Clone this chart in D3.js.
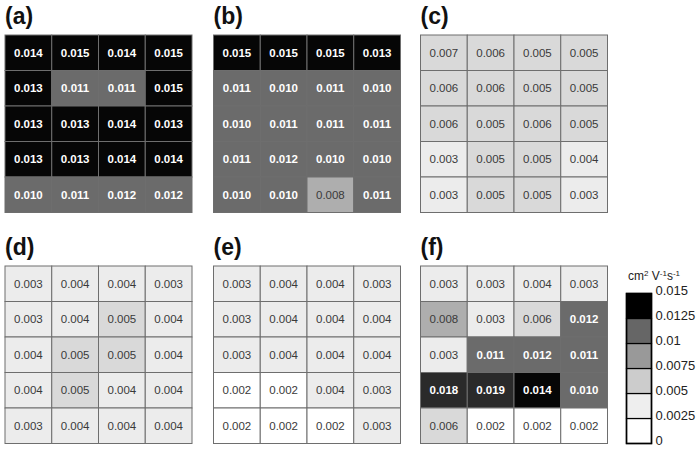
<!DOCTYPE html>
<html>
<head>
<meta charset="utf-8">
<script src="https://cdn.jsdelivr.net/npm/d3@7"></script>
<style>
html,body{margin:0;padding:0;background:#fff;}
svg{display:block;font-family:"Liberation Sans",Arial,sans-serif;}
</style>
</head>
<body>
<svg id="chart" width="697" height="451"></svg>
<script>
const panelLabels = ["(a)", "(b)", "(c)", "(d)", "(e)", "(f)"];
const valuesA = [
  [0.014, 0.015, 0.014, 0.015],
  [0.013, 0.011, 0.011, 0.015],
  [0.013, 0.013, 0.014, 0.013],
  [0.013, 0.013, 0.014, 0.014],
  [0.010, 0.011, 0.012, 0.012]
];
const valuesB = [
  [0.015, 0.015, 0.015, 0.013],
  [0.011, 0.010, 0.011, 0.010],
  [0.010, 0.011, 0.011, 0.011],
  [0.011, 0.012, 0.010, 0.010],
  [0.010, 0.010, 0.008, 0.011]
];
const valuesC = [
  [0.007, 0.006, 0.005, 0.005],
  [0.006, 0.006, 0.005, 0.005],
  [0.006, 0.005, 0.006, 0.005],
  [0.003, 0.005, 0.005, 0.004],
  [0.003, 0.005, 0.005, 0.003]
];
const valuesD = [
  [0.003, 0.004, 0.004, 0.003],
  [0.003, 0.004, 0.005, 0.004],
  [0.004, 0.005, 0.005, 0.004],
  [0.004, 0.005, 0.004, 0.004],
  [0.003, 0.004, 0.004, 0.004]
];
const valuesE = [
  [0.003, 0.004, 0.004, 0.003],
  [0.003, 0.004, 0.004, 0.004],
  [0.003, 0.004, 0.004, 0.004],
  [0.002, 0.002, 0.004, 0.003],
  [0.002, 0.002, 0.002, 0.003]
];
const valuesF = [
  [0.003, 0.003, 0.004, 0.003],
  [0.008, 0.003, 0.006, 0.012],
  [0.003, 0.011, 0.012, 0.011],
  [0.018, 0.019, 0.014, 0.010],
  [0.006, 0.002, 0.002, 0.002]
];
const legendTicks = [0, 0.0025, 0.005, 0.0075, 0.01, 0.0125, 0.015];
const legendTickLabels = ["0", "0.0025", "0.005", "0.0075", "0.01", "0.0125", "0.015"];
const unitLabel = "cm² V⁻¹s⁻¹";

const panels = [valuesA, valuesB, valuesC, valuesD, valuesE, valuesF];

const svg = d3.select("#chart");

// cell color scale (threshold bins of 0.0025)
const cellColor = d3.scaleThreshold()
  .domain([0.0025, 0.005, 0.0075, 0.01, 0.0125, 0.016])
  .range(["#ffffff", "#ececec", "#d9d9d9", "#aeaeae", "#6b6b6b", "#060606", "#2a2a2a"]);
const legendColor = d3.scaleThreshold()
  .domain([0.0025, 0.005, 0.0075, 0.01, 0.0125])
  .range(["#ffffff", "#eeeeee", "#cccccc", "#999999", "#666666", "#000000"]);

const panelX = [5, 213.5, 420.5];
const panelY = [35, 266];
const gridW = 187, gridH = 177.5;
const titleY = [24, 254.5];

panels.forEach((vals, i) => {
  const px = panelX[i % 3], py = panelY[Math.floor(i / 3)];
  const g = svg.append("g").attr("transform", `translate(${px},${py})`);
  const x = d3.scaleBand().domain(d3.range(4)).range([0, gridW]);
  const y = d3.scaleBand().domain(d3.range(5)).range([0, gridH]);
  const cells = vals.flatMap((row, r) => row.map((v, c) => ({ r, c, v })));
  g.selectAll("rect.cell").data(cells).join("rect")
    .attr("class", "cell")
    .attr("x", d => x(d.c)).attr("y", d => y(d.r))
    .attr("width", x.bandwidth()).attr("height", y.bandwidth())
    .attr("fill", d => cellColor(d.v))
    .attr("stroke", "#6e6e6e").attr("stroke-width", 1);
  g.selectAll("text.val").data(cells).join("text")
    .attr("class", "val")
    .attr("x", d => x(d.c) + x.bandwidth() / 2)
    .attr("y", d => y(d.r) + y.bandwidth() / 2)
    .attr("dy", "0.36em")
    .attr("text-anchor", "middle")
    .attr("font-size", "11.5px")
    .attr("font-weight", d => d.v >= 0.0095 ? "bold" : "normal")
    .attr("fill", d => d.v >= 0.0095 ? "#ffffff" : "#3a3a3a")
    .text(d => d3.format(".3f")(d.v));
  svg.append("text")
    .attr("x", px).attr("y", titleY[Math.floor(i / 3)])
    .attr("font-size", "23px").attr("font-weight", "bold").attr("fill", "#111")
    .text(panelLabels[i]);
});

// Legend
const lx = 626.5, ltop = 293.5, lbottom = 443.5, lw = 25;
const ly = d3.scaleLinear().domain([0, 0.015]).range([lbottom, ltop]);
const lg = svg.append("g");
const bins = d3.pairs(legendTicks);
lg.selectAll("rect").data(bins).join("rect")
  .attr("x", lx).attr("y", d => ly(d[1]))
  .attr("width", lw).attr("height", d => ly(d[0]) - ly(d[1]))
  .attr("fill", d => legendColor(d[0]))
  .attr("stroke", "#000").attr("stroke-width", 1.2);
lg.append("rect")
  .attr("x", lx).attr("y", ltop).attr("width", lw).attr("height", lbottom - ltop)
  .attr("fill", "none").attr("stroke", "#000").attr("stroke-width", 1.6);
lg.selectAll("text.tick").data(legendTicks).join("text")
  .attr("class", "tick")
  .attr("x", lx + lw + 4).attr("y", d => ly(d))
  .attr("dy", "0.1em")
  .attr("font-size", "13px").attr("fill", "#222")
  .text((d, i) => legendTickLabels[i]);
const ut = svg.append("text").attr("x", 628).attr("y", 280)
  .attr("font-size", "12px").attr("fill", "#222");
ut.append("tspan").text("cm");
ut.append("tspan").attr("font-size", "8px").attr("dy", "-4").text("2");
ut.append("tspan").attr("dy", "4").text(" V");
ut.append("tspan").attr("font-size", "8px").attr("dy", "-4").text("-1");
ut.append("tspan").attr("dy", "4").text("s");
ut.append("tspan").attr("font-size", "8px").attr("dy", "-4").text("-1");
</script>
</body>
</html>
